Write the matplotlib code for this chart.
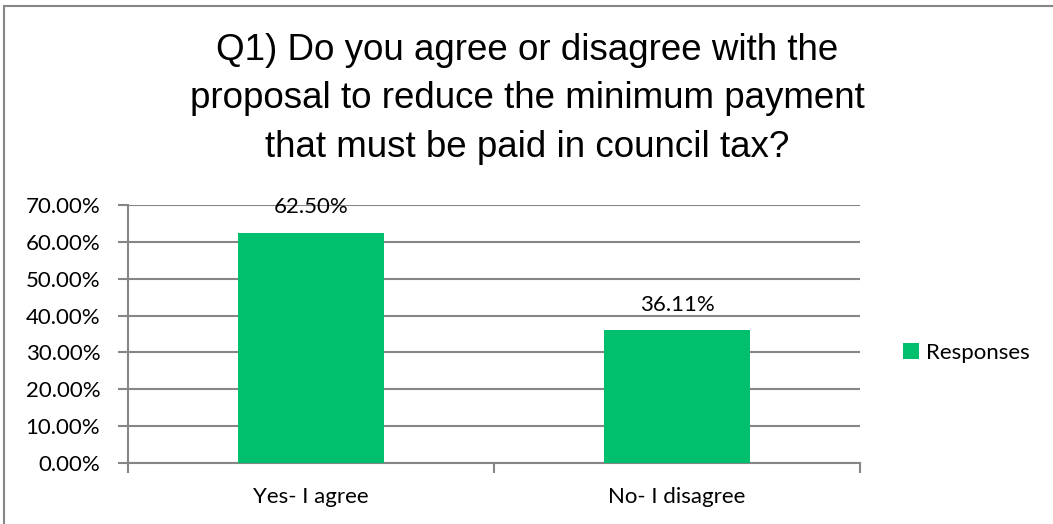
import numpy as np
import matplotlib
matplotlib.use('Agg')
import matplotlib.pyplot as plt
from matplotlib import font_manager
from matplotlib.patches import Rectangle

categories = ['Yes- I agree', 'No- I disagree']
responses = [62.50, 36.11]
yticks = [0, 10, 20, 30, 40, 50, 60, 70]
title = ("Q1) Do you agree or disagree with the\n"
         "proposal to reduce the minimum payment\n"
         "that must be paid in council tax?")

green = '#00c06e'
grid = '#868686'
lab_font = 'Lato'
lab_size = 16

# title looks like Arial Narrow, fall back to regular Liberation Sans if missing
names = {f.name for f in font_manager.fontManager.ttflist}
if 'Liberation Sans Narrow' in names:
    title_font, title_size, title_ls = 'Liberation Sans Narrow', 31, 1.1
else:
    title_font, title_size, title_ls = 'Liberation Sans', 26.5, 1.5

fig = plt.figure(figsize=(10.53, 5.24), dpi=100)
# outer chart border
fig.patches.append(Rectangle((3.5/1053, -0.01), 1.05, 1 - 5.5/524 + 0.01,
                             transform=fig.transFigure, fill=False,
                             edgecolor=grid, linewidth=1.5))

ax = fig.add_axes([128/1053, 1 - 463/524, (860-128)/1053, (463-205)/524])
x = np.arange(len(categories))
bars = ax.bar(x, responses, width=0.4, color=green, label='Responses', zorder=3)
ax.set_xlim(-0.5, 1.5)
ax.set_ylim(0, 70)
ax.set_yticks(yticks)
ax.set_yticklabels(['{:.2f}%'.format(v) for v in yticks], fontsize=lab_size, family=lab_font)
ax.set_xticks(x)
ax.set_xticklabels(categories, fontsize=lab_size, family=lab_font)
ax.tick_params(axis='x', length=0, pad=17)
ax.tick_params(axis='y', length=7, color=grid, width=1.5, pad=13)
# category boundary tick marks
ax.set_xticks([-0.5, 0.5, 1.5], minor=True)
ax.tick_params(axis='x', which='minor', length=7, color=grid, width=1.5)
ax.grid(axis='y', color=grid, linewidth=1.5, zorder=0)
for s in ['top', 'right']:
    ax.spines[s].set_visible(False)
ax.spines['left'].set_color(grid)
ax.spines['left'].set_linewidth(1.5)
ax.spines['bottom'].set_color(grid)
ax.spines['bottom'].set_linewidth(1.5)

for xi, v in zip(x, responses):
    ax.annotate('{:.2f}%'.format(v), (xi, v), xytext=(0, 11), textcoords='offset points',
                ha='center', va='bottom', fontsize=lab_size, family=lab_font, zorder=4)

fig.text(527/1053, 1 - 99/524, title, ha='center', va='center', fontsize=title_size,
         family=title_font, linespacing=title_ls)

fig.legend(handles=[bars], labels=['Responses'], loc='center left',
           bbox_to_anchor=(883/1053, 1 - 353/524), frameon=False,
           prop={'family': lab_font, 'size': lab_size}, handlelength=0.7, handleheight=0.7,
           handletextpad=0.35)

plt.savefig('out.png', dpi=100)
plt.close()
